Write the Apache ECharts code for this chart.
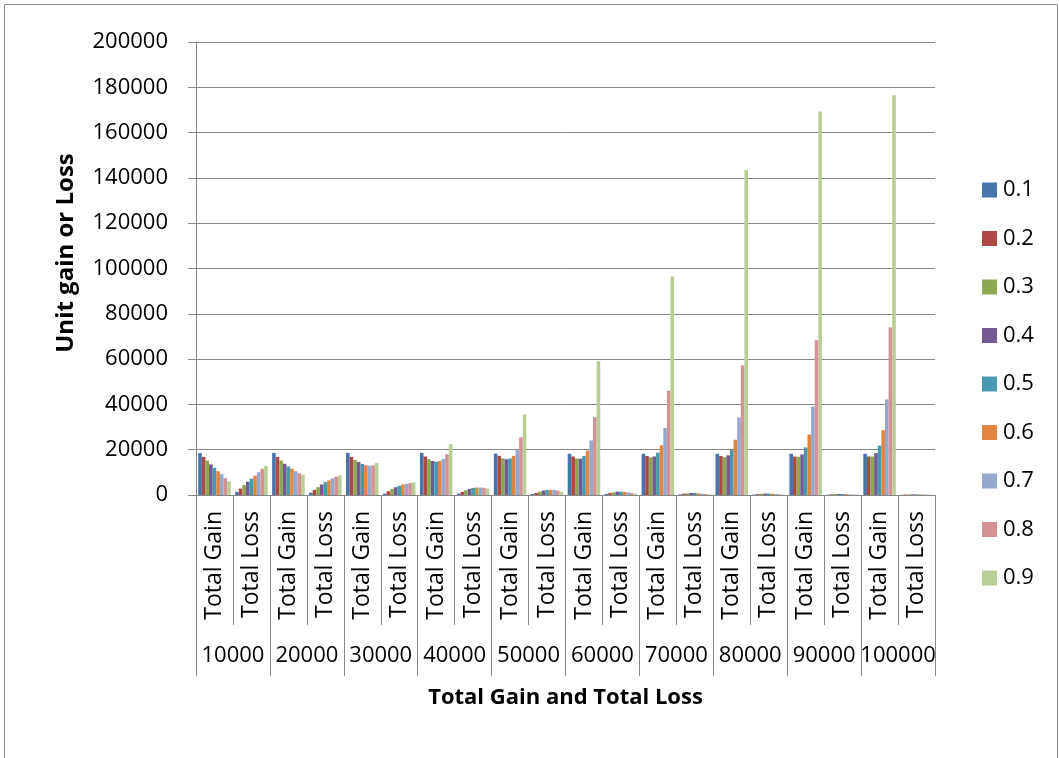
<!DOCTYPE html>
<html>
<head>
<meta charset="utf-8">
<script src="https://cdn.jsdelivr.net/npm/echarts@6/dist/echarts.min.js"></script>
<style>
  html, body { margin: 0; padding: 0; background: #fff; }
  #chart { width: 1059px; height: 758px; }
</style>
</head>
<body>
<div id="chart"></div>
<script>
// Budget levels (outer category level) and measure names (inner level)
const budgets = ['10000', '20000', '30000', '40000', '50000', '60000', '70000', '80000', '90000', '100000'];
const measures = ['Total Gain', 'Total Loss'];
const rates = ['0.1', '0.2', '0.3', '0.4', '0.5', '0.6', '0.7', '0.8', '0.9'];
const yTicks = [0, 20000, 40000, 60000, 80000, 100000, 120000, 140000, 160000, 180000, 200000];

// Total gain per budget, one value per rate 0.1 .. 0.9
const gain10000  = [18500, 16800, 15200, 13500, 12000, 10500, 9200, 7400, 6000];
const gain20000  = [18600, 16800, 15200, 13800, 12600, 11600, 10500, 9600, 9000];
const gain30000  = [18600, 16800, 15500, 14600, 13700, 13100, 12900, 13100, 14100];
const gain40000  = [18600, 17000, 15800, 15000, 14700, 15000, 15900, 18000, 22400];
const gain50000  = [18300, 17300, 16200, 15800, 16100, 17300, 19800, 25400, 35600];
const gain60000  = [18200, 17000, 16100, 16000, 17200, 19600, 24100, 34400, 59000];
const gain70000  = [18200, 17200, 16600, 17000, 18700, 21900, 29600, 46000, 96500];
const gain80000  = [18200, 17200, 16700, 17500, 20000, 24400, 34200, 57200, 143500];
const gain90000  = [18200, 17000, 16900, 17900, 21000, 26700, 39000, 68300, 169300];
const gain100000 = [18200, 17000, 17000, 18500, 21800, 28600, 42200, 73900, 176500];

// Total loss per budget, one value per rate 0.1 .. 0.9
const loss10000  = [1350, 2850, 4350, 5850, 7200, 8550, 10050, 11550, 12800];
const loss20000  = [1050, 2250, 3450, 4650, 5700, 6450, 7350, 8100, 8700];
const loss30000  = [600, 1650, 2700, 3450, 4050, 4650, 4950, 5250, 5550];
const loss40000  = [600, 1350, 2100, 2700, 3150, 3300, 3300, 3150, 2850];
const loss50000  = [450, 900, 1500, 1950, 2250, 2250, 2250, 1950, 1500];
const loss60000  = [450, 900, 1200, 1500, 1500, 1350, 1200, 900, 600];
const loss70000  = [300, 600, 750, 900, 900, 750, 600, 450, 300];
const loss80000  = [200, 400, 550, 650, 650, 550, 450, 300, 200];
const loss90000  = [150, 300, 400, 450, 450, 400, 300, 200, 150];
const loss100000 = [100, 200, 250, 300, 300, 250, 200, 150, 100];

const gains = [gain10000, gain20000, gain30000, gain40000, gain50000, gain60000, gain70000, gain80000, gain90000, gain100000];
const losses = [loss10000, loss20000, loss30000, loss40000, loss50000, loss60000, loss70000, loss80000, loss90000, loss100000];

const colors = ['#4674AB', '#AE4845', '#8DA851', '#735A92', '#4599B0', '#E28540', '#95A9CF', '#D39293', '#B9CE96'];

// Inner category list: Gain / Loss for each budget
const innerCats = [];
budgets.forEach(() => measures.forEach(m => innerCats.push(m)));

const FONT = '"Open Sans", "Liberation Sans", sans-serif';
const AXIS_GRAY = '#868686';

const series = rates.map((r, ri) => ({
  name: r,
  type: 'bar',
  xAxisIndex: 0,
  barGap: '0%',
  barCategoryGap: '12%',
  itemStyle: { color: colors[ri] },
  data: budgets.flatMap((b, bi) => [gains[bi][ri], losses[bi][ri]])
}));

const chart = echarts.init(document.getElementById('chart'), null, { renderer: 'canvas' });
chart.setOption({
  animation: false,
  backgroundColor: '#fff',
  textStyle: { fontFamily: FONT },
  grid: { left: 196, right: 124, top: 42, bottom: 263, containLabel: false },
  legend: {
    orient: 'vertical',
    left: 977,
    top: 174,
    itemWidth: 15,
    itemHeight: 15,
    itemGap: 26.5,
    icon: 'rect',
    data: rates,
    textStyle: { fontFamily: FONT, fontSize: 22, color: '#000', lineHeight: 22, padding: [0, 0, 0, 1] }
  },
  xAxis: [
    {
      type: 'category',
      data: innerCats,
      position: 'bottom',
      axisLine: { lineStyle: { color: AXIS_GRAY, width: 1 } },
      axisTick: { show: true, length: 130, interval: 0, lineStyle: { color: AXIS_GRAY } },
      axisLabel: {
        interval: 0, rotate: 90, margin: 16,
        fontFamily: FONT, fontSize: 23, color: '#000'
      },
      splitLine: { show: false }
    },
    {
      type: 'category',
      data: budgets,
      position: 'bottom',
      axisLine: { show: false },
      axisTick: { show: true, length: 181, interval: 0, lineStyle: { color: AXIS_GRAY } },
      axisLabel: { interval: 0, margin: 150, fontFamily: FONT, fontSize: 22, color: '#000' },
      splitLine: { show: false }
    }
  ],
  yAxis: {
    type: 'value',
    min: yTicks[0],
    max: yTicks[yTicks.length - 1],
    interval: yTicks[1] - yTicks[0],
    axisLine: { show: true, lineStyle: { color: AXIS_GRAY } },
    axisTick: { show: true, length: 8, lineStyle: { color: AXIS_GRAY } },
    axisLabel: {
      margin: 28, fontFamily: FONT, fontSize: 22, color: '#000',
      formatter: v => String(v)
    },
    splitLine: { show: true, lineStyle: { color: AXIS_GRAY, width: 1 } }
  },
  graphic: [
    {
      type: 'rect', silent: true, z: -10,
      shape: { x: 4.5, y: 4.5, width: 1053, height: 800 },
      style: { fill: 'none', stroke: '#8a8a8a', lineWidth: 1 }
    },
    {
      type: 'text', x: 66, y: 253, rotation: Math.PI / 2,
      style: {
        text: 'Unit gain or Loss', fill: '#000',
        font: 'bold 24px ' + FONT, textAlign: 'center', textVerticalAlign: 'middle'
      }
    },
    {
      type: 'text', x: 565.5, y: 698,
      style: {
        text: 'Total Gain and Total Loss', fill: '#000',
        font: 'bold 22px ' + FONT, textAlign: 'center', textVerticalAlign: 'middle'
      }
    }
  ],
  series: series
});
</script>
</body>
</html>
